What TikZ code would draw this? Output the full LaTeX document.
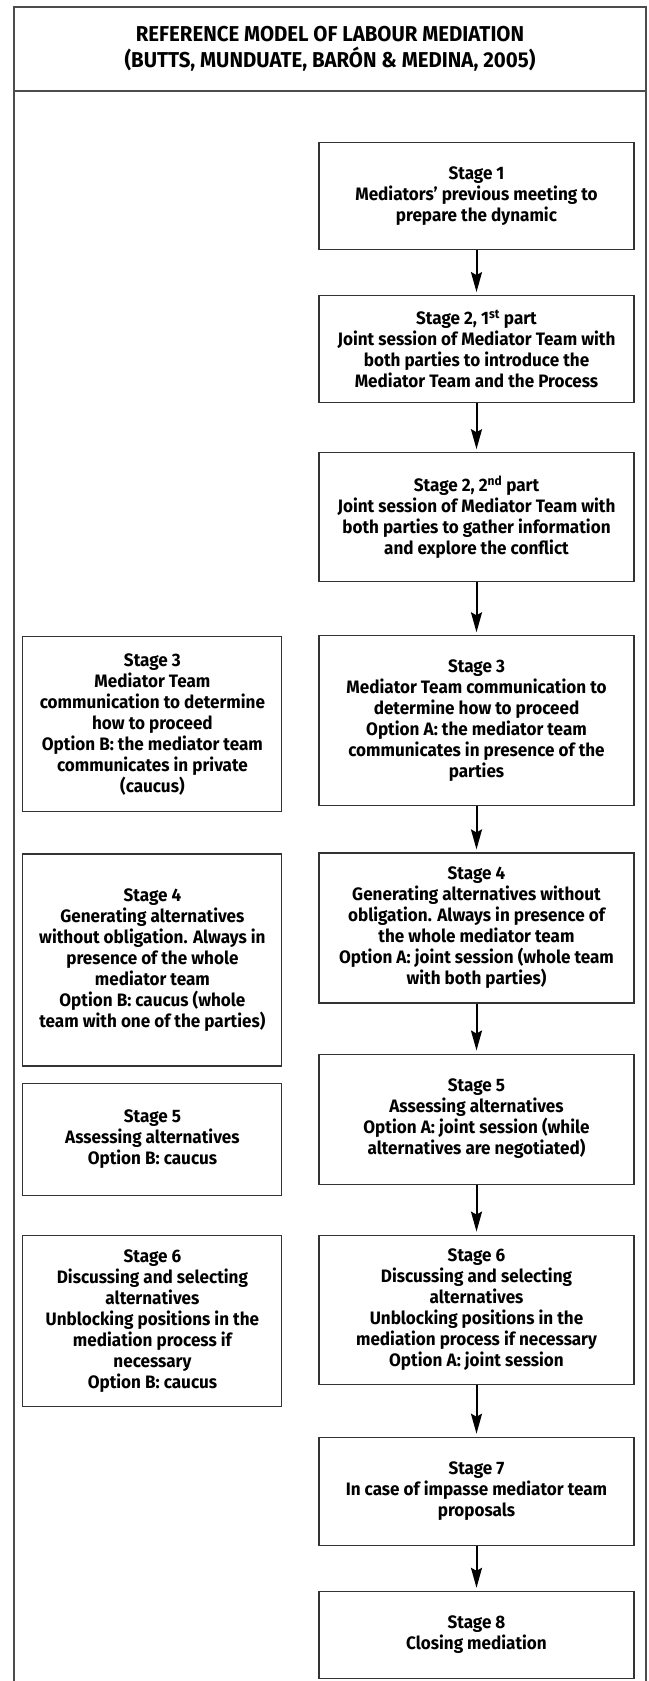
\documentclass[tikz,border=0pt]{standalone}
\usepackage{fontspec}
\setmainfont{Fira Sans}[FakeStretch=0.95]
\usetikzlibrary{arrows.meta,positioning}
\tikzset{
    stagebox/.style={
        draw=black!80,
        line width=1.1pt,
        align=center,
        minimum width=315pt,
        inner sep=4pt,
        font=\fontsize{18}{21}\selectfont\bfseries
    },
    optbox/.style={
        stagebox,
        minimum width=259pt
    },
    arrow/.style={
        -{Stealth[length=20pt,width=11pt,inset=3pt]},
        line width=2pt,
        shorten >=3pt
    },
    outline/.style={
        draw=black!70,
        line width=1.2pt
    }
}

\begin{document}
\begin{tikzpicture}
\useasboundingbox (0pt,0pt) rectangle (648pt,-1681pt);

% frame and title
\draw[outline] (14pt,-1681pt) -- (14pt,-7pt) -- (646pt,-7pt) -- (646pt,-1681pt);
\draw[outline] (14pt,-91pt) -- (646pt,-91pt);
\node[font=\fontsize{21.5}{26}\selectfont\bfseries, align=center] (title) at (330pt,-49pt)
    {REFERENCE MODEL OF LABOUR MEDIATION\\(BUTTS, MUNDUATE, BARÓN \& MEDINA, 2005)};

% option A column
\node[stagebox, minimum height=107pt, anchor=north] (s1) at (476.5pt,-142pt)
    {Stage 1\\Mediators' previous meeting to\\prepare the dynamic};
\node[stagebox, minimum height=107pt, below=45pt of s1] (s2a)
    {Stage 2, 1\textsuperscript{st} part\\Joint session of Mediator Team with\\both parties to introduce the\\Mediator Team and the Process};
\node[stagebox, minimum height=129pt, below=49pt of s2a] (s2b)
    {Stage 2, 2\textsuperscript{nd} part\\Joint session of Mediator Team with\\both parties to gather information\\and explore the conflict};
\node[stagebox, minimum height=170pt, below=53pt of s2b] (s3)
    {Stage 3\\Mediator Team communication to\\determine how to proceed\\Option A: the mediator team\\communicates in presence of the\\parties};
\node[stagebox, minimum height=150pt, below=46pt of s3] (s4)
    {Stage 4\\Generating alternatives without\\obligation. Always in presence of\\the whole mediator team\\Option A: joint session (whole team\\with both parties)};
\node[stagebox, minimum height=130pt, below=50pt of s4] (s5)
    {Stage 5\\Assessing alternatives\\Option A: joint session (while\\alternatives are negotiated)};
\node[stagebox, minimum height=149pt, below=50pt of s5] (s6)
    {Stage 6\\Discussing and selecting\\alternatives\\Unblocking positions in the\\mediation process if necessary\\Option A: joint session};
\node[stagebox, minimum height=108pt, below=52pt of s6] (s7)
    {Stage 7\\In case of impasse mediator team\\proposals};
\node[stagebox, minimum height=87pt, below=45pt of s7] (s8)
    {Stage 8\\Closing mediation};

% option B column
\node[optbox, minimum height=175pt, left=36pt of s3.north west, anchor=north east, yshift=-1pt] (l3)
    {Stage 3\\Mediator Team\\communication to determine\\how to proceed\\Option B: the mediator team\\communicates in private\\(caucus)};
\node[optbox, minimum height=212pt, below=41pt of l3] (l4)
    {Stage 4\\Generating alternatives\\without obligation. Always in\\presence of the whole\\mediator team\\Option B: caucus (whole\\team with one of the parties)};
\node[optbox, minimum height=112pt, below=16pt of l4] (l5)
    {Stage 5\\Assessing alternatives\\Option B: caucus};
\node[optbox, minimum height=171pt, below=39pt of l5] (l6)
    {Stage 6\\Discussing and selecting\\alternatives\\Unblocking positions in the\\mediation process if\\necessary\\Option B: caucus};

\draw[arrow] (s1) -- (s2a);
\draw[arrow] (s2a) -- (s2b);
\draw[arrow] (s2b) -- (s3);
\draw[arrow] (s3) -- (s4);
\draw[arrow] (s4) -- (s5);
\draw[arrow] (s5) -- (s6);
\draw[arrow] (s6) -- (s7);
\draw[arrow] (s7) -- (s8);

\end{tikzpicture}
\end{document}
